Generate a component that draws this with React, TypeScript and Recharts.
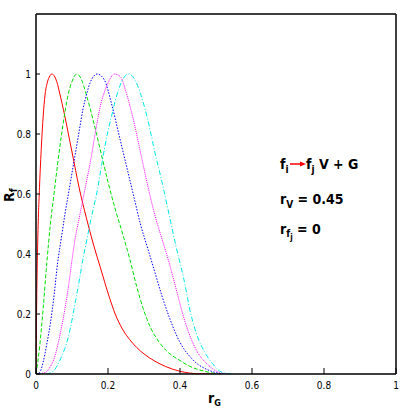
import { LineChart, Line, XAxis, YAxis } from 'recharts';

// [r_G, R_f] pairs
const RED = [
  [0, 0], [0.002, 0.25], [0.005, 0.45], [0.01, 0.63], [0.015, 0.76], [0.02, 0.86], [0.025, 0.93],
  [0.03, 0.965], [0.037, 0.99], [0.044, 1.0], [0.05, 0.995], [0.06, 0.965], [0.065, 0.94],
  [0.08, 0.86], [0.09, 0.8], [0.1, 0.74], [0.12, 0.62], [0.14, 0.52], [0.16, 0.43], [0.18, 0.35],
  [0.2, 0.27], [0.22, 0.2], [0.24, 0.15], [0.26, 0.115], [0.28, 0.088], [0.3, 0.067],
  [0.33, 0.043], [0.36, 0.025], [0.4, 0.009], [0.45, 0.001], [0.5, 0],
];

const GREEN = [
  [0, 0], [0.005, 0.04], [0.01, 0.09], [0.02, 0.22], [0.03, 0.37], [0.04, 0.5], [0.05, 0.6],
  [0.06, 0.7], [0.07, 0.79], [0.08, 0.87], [0.09, 0.935], [0.1, 0.975], [0.113, 1.0],
  [0.125, 0.985], [0.14, 0.93], [0.16, 0.84], [0.18, 0.74], [0.2, 0.64], [0.22, 0.55],
  [0.24, 0.47], [0.26, 0.385], [0.28, 0.29], [0.3, 0.21], [0.32, 0.15], [0.34, 0.11],
  [0.36, 0.08], [0.38, 0.06], [0.4, 0.045], [0.42, 0.03], [0.45, 0.015], [0.48, 0.006],
  [0.5, 0.001], [0.52, 0],
];

const BLUE = [
  [0, 0], [0.01, 0.005], [0.02, 0.04], [0.03, 0.1], [0.04, 0.17], [0.05, 0.26], [0.06, 0.37],
  [0.07, 0.45], [0.08, 0.53], [0.09, 0.6], [0.1, 0.67], [0.11, 0.74], [0.12, 0.81], [0.13, 0.88],
  [0.14, 0.93], [0.15, 0.97], [0.17, 1.0], [0.19, 0.98], [0.21, 0.9], [0.23, 0.8], [0.25, 0.7],
  [0.27, 0.6], [0.29, 0.5], [0.31, 0.42], [0.33, 0.34], [0.35, 0.26], [0.37, 0.19], [0.39, 0.13],
  [0.41, 0.085], [0.43, 0.055], [0.45, 0.032], [0.47, 0.018], [0.49, 0.008], [0.51, 0.002],
  [0.53, 0],
];

const MAGENTA = [
  [0, 0], [0.02, 0.003], [0.03, 0.008], [0.04, 0.025], [0.05, 0.05], [0.06, 0.095], [0.07, 0.15],
  [0.08, 0.215], [0.09, 0.29], [0.1, 0.38], [0.11, 0.46], [0.12, 0.52], [0.13, 0.58], [0.14, 0.64],
  [0.15, 0.7], [0.16, 0.77], [0.17, 0.84], [0.18, 0.9], [0.19, 0.94], [0.2, 0.97], [0.218, 1.0],
  [0.235, 0.99], [0.25, 0.94], [0.27, 0.85], [0.29, 0.74], [0.31, 0.63], [0.33, 0.53],
  [0.35, 0.45], [0.37, 0.37], [0.39, 0.28], [0.41, 0.19], [0.43, 0.12], [0.45, 0.07],
  [0.47, 0.04], [0.49, 0.018], [0.51, 0.005], [0.53, 0],
];

const CYAN = [
  [0, 0], [0.03, 0], [0.04, 0.004], [0.05, 0.012], [0.06, 0.03], [0.07, 0.055], [0.08, 0.085],
  [0.09, 0.124], [0.1, 0.18], [0.11, 0.245], [0.12, 0.31], [0.13, 0.38], [0.14, 0.44], [0.15, 0.5],
  [0.16, 0.555], [0.17, 0.61], [0.18, 0.68], [0.19, 0.75], [0.2, 0.81], [0.21, 0.86], [0.22, 0.91],
  [0.23, 0.95], [0.24, 0.98], [0.258, 1.0], [0.275, 0.98], [0.29, 0.935], [0.31, 0.85],
  [0.33, 0.74], [0.35, 0.64], [0.37, 0.53], [0.39, 0.42], [0.41, 0.32], [0.43, 0.2], [0.45, 0.12],
  [0.47, 0.07], [0.49, 0.035], [0.51, 0.01], [0.53, 0.002], [0.55, 0],
];

const X_TICKS = [0, 0.2, 0.4, 0.6, 0.8, 1];
const Y_TICKS = [0, 0.2, 0.4, 0.6, 0.8, 1];

const toPoints = (arr: number[][]) => arr.map(([x, y]) => ({ x, y }));

const SERIES = [
  { name: 'red', data: toPoints(RED), color: '#ff0000', dash: undefined },
  { name: 'green', data: toPoints(GREEN), color: '#00e000', dash: '4 2' },
  { name: 'blue', data: toPoints(BLUE), color: '#0000ff', dash: '1.5 1.5' },
  { name: 'magenta', data: toPoints(MAGENTA), color: '#ff00ff', dash: '1 1' },
  { name: 'cyan', data: toPoints(CYAN), color: '#00e8e8', dash: '5 2 1 2' },
];

const FONT = "'Liberation Sans Narrow', 'DejaVu Sans Condensed', 'Liberation Sans', sans-serif";
const tickStyle = { fontSize: 10, fill: '#000', fontFamily: FONT };
const axisLine = { stroke: '#000', strokeWidth: 1.5 };
const tickLine = { stroke: '#000', strokeWidth: 1 };

export default function App() {
  return (
    <div style={{ position: 'absolute', left: 0, top: 0, width: 409, height: 409, background: '#fff' }}>
      <LineChart width={409} height={409} margin={{ top: 13, right: 12, bottom: 0, left: 0 }}>
        <XAxis
          dataKey="x" type="number" domain={[0, 1]} ticks={X_TICKS} height={35}
          tick={tickStyle} tickSize={-6} tickMargin={14}
          axisLine={axisLine} tickLine={tickLine} allowDataOverflow
        />
        <XAxis
          xAxisId="top" orientation="top" type="number" domain={[0, 1]} ticks={X_TICKS} height={1}
          tick={false} tickSize={-6} axisLine={axisLine} tickLine={tickLine} allowDataOverflow
        />
        <YAxis
          type="number" domain={[0, 1.2]} ticks={Y_TICKS} width={36}
          tick={tickStyle} tickSize={-4} tickMargin={9}
          axisLine={axisLine} tickLine={tickLine} allowDataOverflow
        />
        <YAxis
          yAxisId="right" orientation="right" type="number" domain={[0, 1.2]} ticks={Y_TICKS} width={1}
          tick={false} tickSize={-3} axisLine={axisLine} tickLine={tickLine} allowDataOverflow
        />
        {SERIES.map((s) => (
          <Line
            key={s.name} data={s.data} dataKey="y" type="monotone" stroke={s.color}
            strokeWidth={1} strokeDasharray={s.dash} dot={false} isAnimationActive={false}
          />
        ))}
      </LineChart>
      <svg
        width={409} height={409}
        style={{ position: 'absolute', left: 0, top: 0, pointerEvents: 'none' }}
        fontFamily={FONT} fontWeight="bold"
      >
        {/* axis titles */}
        <text transform="translate(13.5,202) rotate(-90)" fontSize={14}>
          R<tspan dy={3} fontSize={10}>f</tspan>
        </text>
        <text x={208} y={403} fontSize={14}>
          r<tspan dy={3} fontSize={9}>G</tspan>
        </text>

        {/* reaction annotation */}
        <text x={280} y={169} fontSize={14}>
          f<tspan dy={4} fontSize={10}>i</tspan>
        </text>
        <line x1={290} y1={164} x2={301} y2={164} stroke="#ff0000" strokeWidth={1.5} />
        <polygon points="306,164 300,161.5 300,166.5" fill="#ff0000" />
        <text x={306} y={169} fontSize={14}>
          f<tspan dy={4} fontSize={10}>j</tspan>
          <tspan dy={-4}> V + G</tspan>
        </text>
        <text x={280} y={204} fontSize={14}>
          r<tspan dy={4} fontSize={10}>V</tspan>
          <tspan dy={-4}> = 0.45</tspan>
        </text>
        <text x={280} y={234} fontSize={14}>
          r<tspan dy={3} fontSize={10}>f</tspan>
          <tspan dy={3} fontSize={8}>j</tspan>
          <tspan dy={-6} fontSize={14}> = 0</tspan>
        </text>
      </svg>
    </div>
  );
}
